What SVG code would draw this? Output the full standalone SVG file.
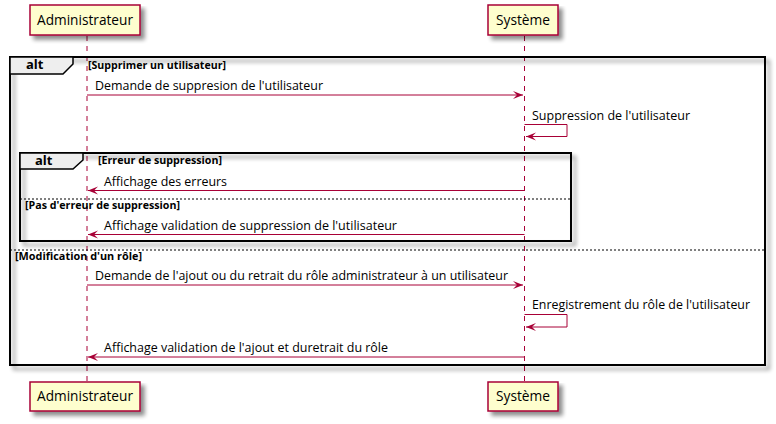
<svg xmlns="http://www.w3.org/2000/svg" width="776" height="424" viewBox="0 0 776 424">
<defs>
<filter id="sh" x="-10%" y="-10%" width="130%" height="140%">
<feGaussianBlur in="SourceAlpha" stdDeviation="2"/>
<feOffset dx="4" dy="4" result="o"/>
<feComponentTransfer><feFuncA type="linear" slope="0.45"/></feComponentTransfer>
<feMerge><feMergeNode/><feMergeNode in="SourceGraphic"/></feMerge>
</filter>
<marker id="ah" viewBox="0 0 11 10" refX="10" refY="5" markerWidth="11" markerHeight="10" markerUnits="userSpaceOnUse" orient="auto">
<path d="M0,1 L10,5 L0,9 L4,5 Z" fill="#A80036"/>
</marker>
</defs>
<style>
.part{fill:#FEFECE;stroke:#A80036;stroke-width:1.5}
.pt{font-family:"Open Sans","Noto Sans",sans-serif;font-size:14px;fill:#000}
.life{stroke:#A80036;stroke-width:1;stroke-dasharray:5,5;fill:none}
.msg{stroke:#A80036;stroke-width:1;fill:none}
.mt{font-family:"Open Sans","Noto Sans",sans-serif;font-size:13px;fill:#000}
.frame{fill:none;stroke:#000;stroke-width:2}
.tab{fill:#EEEEEE;stroke:#000;stroke-width:1.5}
.alt{font-family:"Open Sans","Noto Sans",sans-serif;font-size:13px;font-weight:bold;fill:#000}
.gd{font-family:"Open Sans","Noto Sans",sans-serif;font-size:11px;font-weight:bold;fill:#000}
.sep{stroke:#000;stroke-width:1;stroke-dasharray:2,2}
</style>
<g id="lifelines">
<line class="life" x1="87" y1="36" x2="87" y2="382"/>
<line class="life" x1="524.5" y1="36" x2="524.5" y2="382"/>
</g>
<g id="frame-outer">
<rect class="frame" x="10" y="57" width="755" height="308" filter="url(#sh)"/>
<path class="tab" d="M10,57 L73,57 L73,64 L63,74 L10,74 Z"/>
<text class="alt" x="26" y="69">alt</text>
<text class="gd" x="88" y="69" textLength="138" lengthAdjust="spacingAndGlyphs">[Supprimer un utilisateur]</text>
<line class="sep" x1="10" y1="250" x2="765" y2="250"/>
<text class="gd" x="15" y="260" textLength="127" lengthAdjust="spacingAndGlyphs">[Modification d'un rôle]</text>
</g>
<g id="frame-inner">
<rect class="frame" x="20" y="153" width="551" height="88" filter="url(#sh)"/>
<path class="tab" d="M20,153 L83,153 L83,160 L73,169 L20,169 Z"/>
<text class="alt" x="35" y="165">alt</text>
<text class="gd" x="98" y="164" textLength="124" lengthAdjust="spacingAndGlyphs">[Erreur de suppression]</text>
<line class="sep" x1="20" y1="199" x2="571" y2="199"/>
<text class="gd" x="25" y="209" textLength="155" lengthAdjust="spacingAndGlyphs">[Pas d'erreur de suppression]</text>
</g>
<g id="connectors">
<line class="msg" x1="87" y1="95" x2="523" y2="95" marker-end="url(#ah)"/>
<text class="mt" x="95" y="90" textLength="228" lengthAdjust="spacingAndGlyphs">Demande de suppresion de l'utilisateur</text>
<polyline class="msg" points="524.5,124.5 567,124.5 567,136.5 526,136.5" marker-end="url(#ah)"/>
<text class="mt" x="532" y="120" textLength="158" lengthAdjust="spacingAndGlyphs">Suppression de l'utilisateur</text>
<line class="msg" x1="524.5" y1="190.5" x2="88" y2="190.5" marker-end="url(#ah)"/>
<text class="mt" x="104" y="186" textLength="123" lengthAdjust="spacingAndGlyphs">Affichage des erreurs</text>
<line class="msg" x1="524.5" y1="234.5" x2="88" y2="234.5" marker-end="url(#ah)"/>
<text class="mt" x="104" y="230" textLength="293" lengthAdjust="spacingAndGlyphs">Affichage validation de suppression de l'utilisateur</text>
<line class="msg" x1="87" y1="285" x2="523" y2="285" marker-end="url(#ah)"/>
<text class="mt" x="95" y="280" textLength="413" lengthAdjust="spacingAndGlyphs">Demande de l'ajout ou du retrait du rôle administrateur à un utilisateur</text>
<polyline class="msg" points="524.5,314.5 567,314.5 567,327 526,327" marker-end="url(#ah)"/>
<text class="mt" x="532" y="309" textLength="218" lengthAdjust="spacingAndGlyphs">Enregistrement du rôle de l'utilisateur</text>
<line class="msg" x1="524.5" y1="357" x2="88" y2="357" marker-end="url(#ah)"/>
<text class="mt" x="104" y="352" textLength="284" lengthAdjust="spacingAndGlyphs">Affichage validation de l'ajout et duretrait du rôle</text>
</g>
<g id="admin-top">
<rect class="part" x="30" y="5" width="110" height="30" filter="url(#sh)"/>
<text class="pt" x="37" y="25" textLength="96" lengthAdjust="spacingAndGlyphs">Administrateur</text>
</g>
<g id="systeme-top">
<rect class="part" x="488" y="5" width="70" height="30" filter="url(#sh)"/>
<text class="pt" x="496" y="25" textLength="54" lengthAdjust="spacingAndGlyphs">Système</text>
</g>
<g id="admin-bottom">
<rect class="part" x="30" y="382" width="110" height="29" filter="url(#sh)"/>
<text class="pt" x="37" y="401" textLength="96" lengthAdjust="spacingAndGlyphs">Administrateur</text>
</g>
<g id="systeme-bottom">
<rect class="part" x="488" y="382" width="70" height="29" filter="url(#sh)"/>
<text class="pt" x="496" y="401" textLength="54" lengthAdjust="spacingAndGlyphs">Système</text>
</g>
</svg>
